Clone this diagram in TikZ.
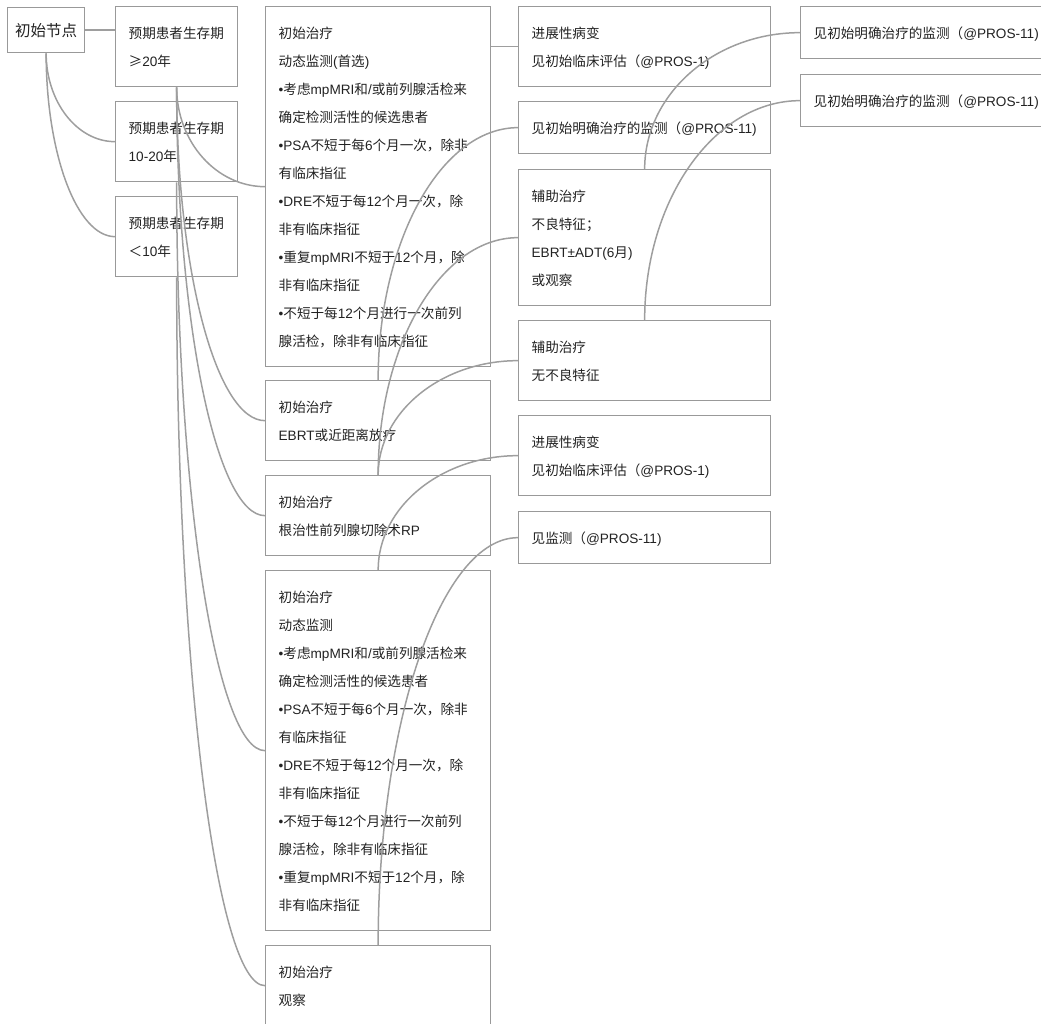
\documentclass[tikz,border=0pt]{standalone}
\usepackage{fontspec}
\setmainfont{Liberation Sans}
\newfontfamily\latinfont{Liberation Sans}
\newfontfamily\cjkfont{Noto Sans CJK SC}
\usetikzlibrary{calc}
% CJK characters switch to the CJK family, all others stay in Liberation Sans
\newXeTeXintercharclass\cjkcls
\newcount\cjkc
\cjkc="3000 \loop\ifnum\cjkc<"3040 \XeTeXcharclass\cjkc=\cjkcls \advance\cjkc by 1 \repeat
\cjkc="4E00 \loop\ifnum\cjkc<"A000 \XeTeXcharclass\cjkc=\cjkcls \advance\cjkc by 1 \repeat
\cjkc="FF00 \loop\ifnum\cjkc<"FFF0 \XeTeXcharclass\cjkc=\cjkcls \advance\cjkc by 1 \repeat
\XeTeXcharclass"2265=\cjkcls
\XeTeXinterchartoks 0 \cjkcls={\cjkfont}
\XeTeXinterchartoks 4095 \cjkcls={\cjkfont}
\XeTeXinterchartoks \cjkcls 0={\latinfont}
\XeTeXinterchartoks \cjkcls 4095={\latinfont}
\XeTeXinterchartokenstate=1
\exhyphenpenalty=10000
\hyphenpenalty=10000
\definecolor{boxgray}{HTML}{999999}
\definecolor{linegray}{HTML}{9E9E9E}
\definecolor{textgray}{HTML}{222222}
\tikzset{
  rootbox/.style={draw=boxgray, line width=1.3pt, text=textgray, anchor=north west,
    font=\fontsize{15.5}{18}\selectfont, minimum width=77pt, minimum height=45pt, inner sep=0pt},
  treebox/.style={draw=boxgray, line width=1.3pt, text=textgray, align=left, anchor=north west,
    inner xsep=13pt, inner ysep=12pt, font=\fontsize{13.6}{28}\selectfont,
    execute at begin node=\strut, execute at end node=\strut},
  colb/.style={treebox, text width=96pt},
  colc/.style={treebox, text width=199pt},
  cold/.style={treebox, text width=226pt},
  cole/.style={treebox, text width=260pt},
  conn/.style={draw=linegray, line width=1.5pt},
  branch/.style={to path={.. controls ($(\tikztostart)!0.55!(\tikztostart|-\tikztotarget)$)
      and ($(\tikztotarget)!0.55!(\tikztotarget-|\tikztostart)$) .. (\tikztotarget)}}
}
\begin{document}
\begin{tikzpicture}[x=1pt, y=-1pt]
  \useasboundingbox (0,0) rectangle (1041,1023);
  \clip (0,0) rectangle (1041,1023);
  \node[rootbox] (root) at (7,7) {初始节点};
  \node[colb] (s20) at (115,6) {预期患者生存期\\≥20年};
  \node[colb] (s1020) at (115,101) {预期患者生存期\\10-20年};
  \node[colb] (s10) at (115,196) {预期患者生存期\\＜10年};
  \node[colc] (tA) at (265,6) {初始治疗\\动态监测(首选)\\•考虑mpMRI和/或前列腺活检来\\确定检测活性的候选患者\\•PSA不短于每6个月一次，除非\\有临床指征\\•DRE不短于每12个月一次，除\\非有临床指征\\•重复mpMRI不短于12个月，除\\非有临床指征\\•不短于每12个月进行一次前列\\腺活检，除非有临床指征};
  \node[colc] (tB) at (265,380) {初始治疗\\EBRT或近距离放疗};
  \node[colc] (tC) at (265,475) {初始治疗\\根治性前列腺切除术RP};
  \node[colc] (tD) at (265,570) {初始治疗\\动态监测\\•考虑mpMRI和/或前列腺活检来\\确定检测活性的候选患者\\•PSA不短于每6个月一次，除非\\有临床指征\\•DRE不短于每12个月一次，除\\非有临床指征\\•不短于每12个月进行一次前列\\腺活检，除非有临床指征\\•重复mpMRI不短于12个月，除\\非有临床指征};
  \node[colc] (tE) at (265,945) {初始治疗\\观察};
  \node[cold] (f1) at (518,6) {进展性病变\\见初始临床评估（@PROS-1)};
  \node[cold] (f2) at (518,101) {见初始明确治疗的监测（@PROS-11)};
  \node[cold] (f3) at (518,169) {辅助治疗\\不良特征；\\EBRT±ADT(6月)\\或观察};
  \node[cold] (f4) at (518,320) {辅助治疗\\无不良特征};
  \node[cold] (f5) at (518,415) {进展性病变\\见初始临床评估（@PROS-1)};
  \node[cold] (f6) at (518,511) {见监测（@PROS-11)};
  \node[cole] (g1) at (800,6) {见初始明确治疗的监测（@PROS-11)};
  \node[cole] (g2) at (800,74) {见初始明确治疗的监测（@PROS-11)};
  \draw[conn] (root.east) -- (root.east -| s20.west);
  \foreach \n in {s1020,s10} \draw[conn] (root.south) to[branch] (\n.west);
  \foreach \n in {tA,tB,tC} \draw[conn] (s20.south) to[branch] (\n.west);
  \draw[conn] (s1020.south) to[branch] (tD.west);
  \draw[conn] (s10.south) to[branch] (tE.west);
  \draw[conn] (f1.west -| tA.east) -- (f1.west);
  \draw[conn] (tB.north) to[branch] (f2.west);
  \foreach \n in {f3,f4} \draw[conn] (tC.north) to[branch] (\n.west);
  \draw[conn] (tD.north) to[branch] (f5.west);
  \draw[conn] (tE.north) to[branch] (f6.west);
  \draw[conn] (f3.north) to[branch] (g1.west);
  \draw[conn] (f4.north) to[branch] (g2.west);
\end{tikzpicture}
\end{document}
